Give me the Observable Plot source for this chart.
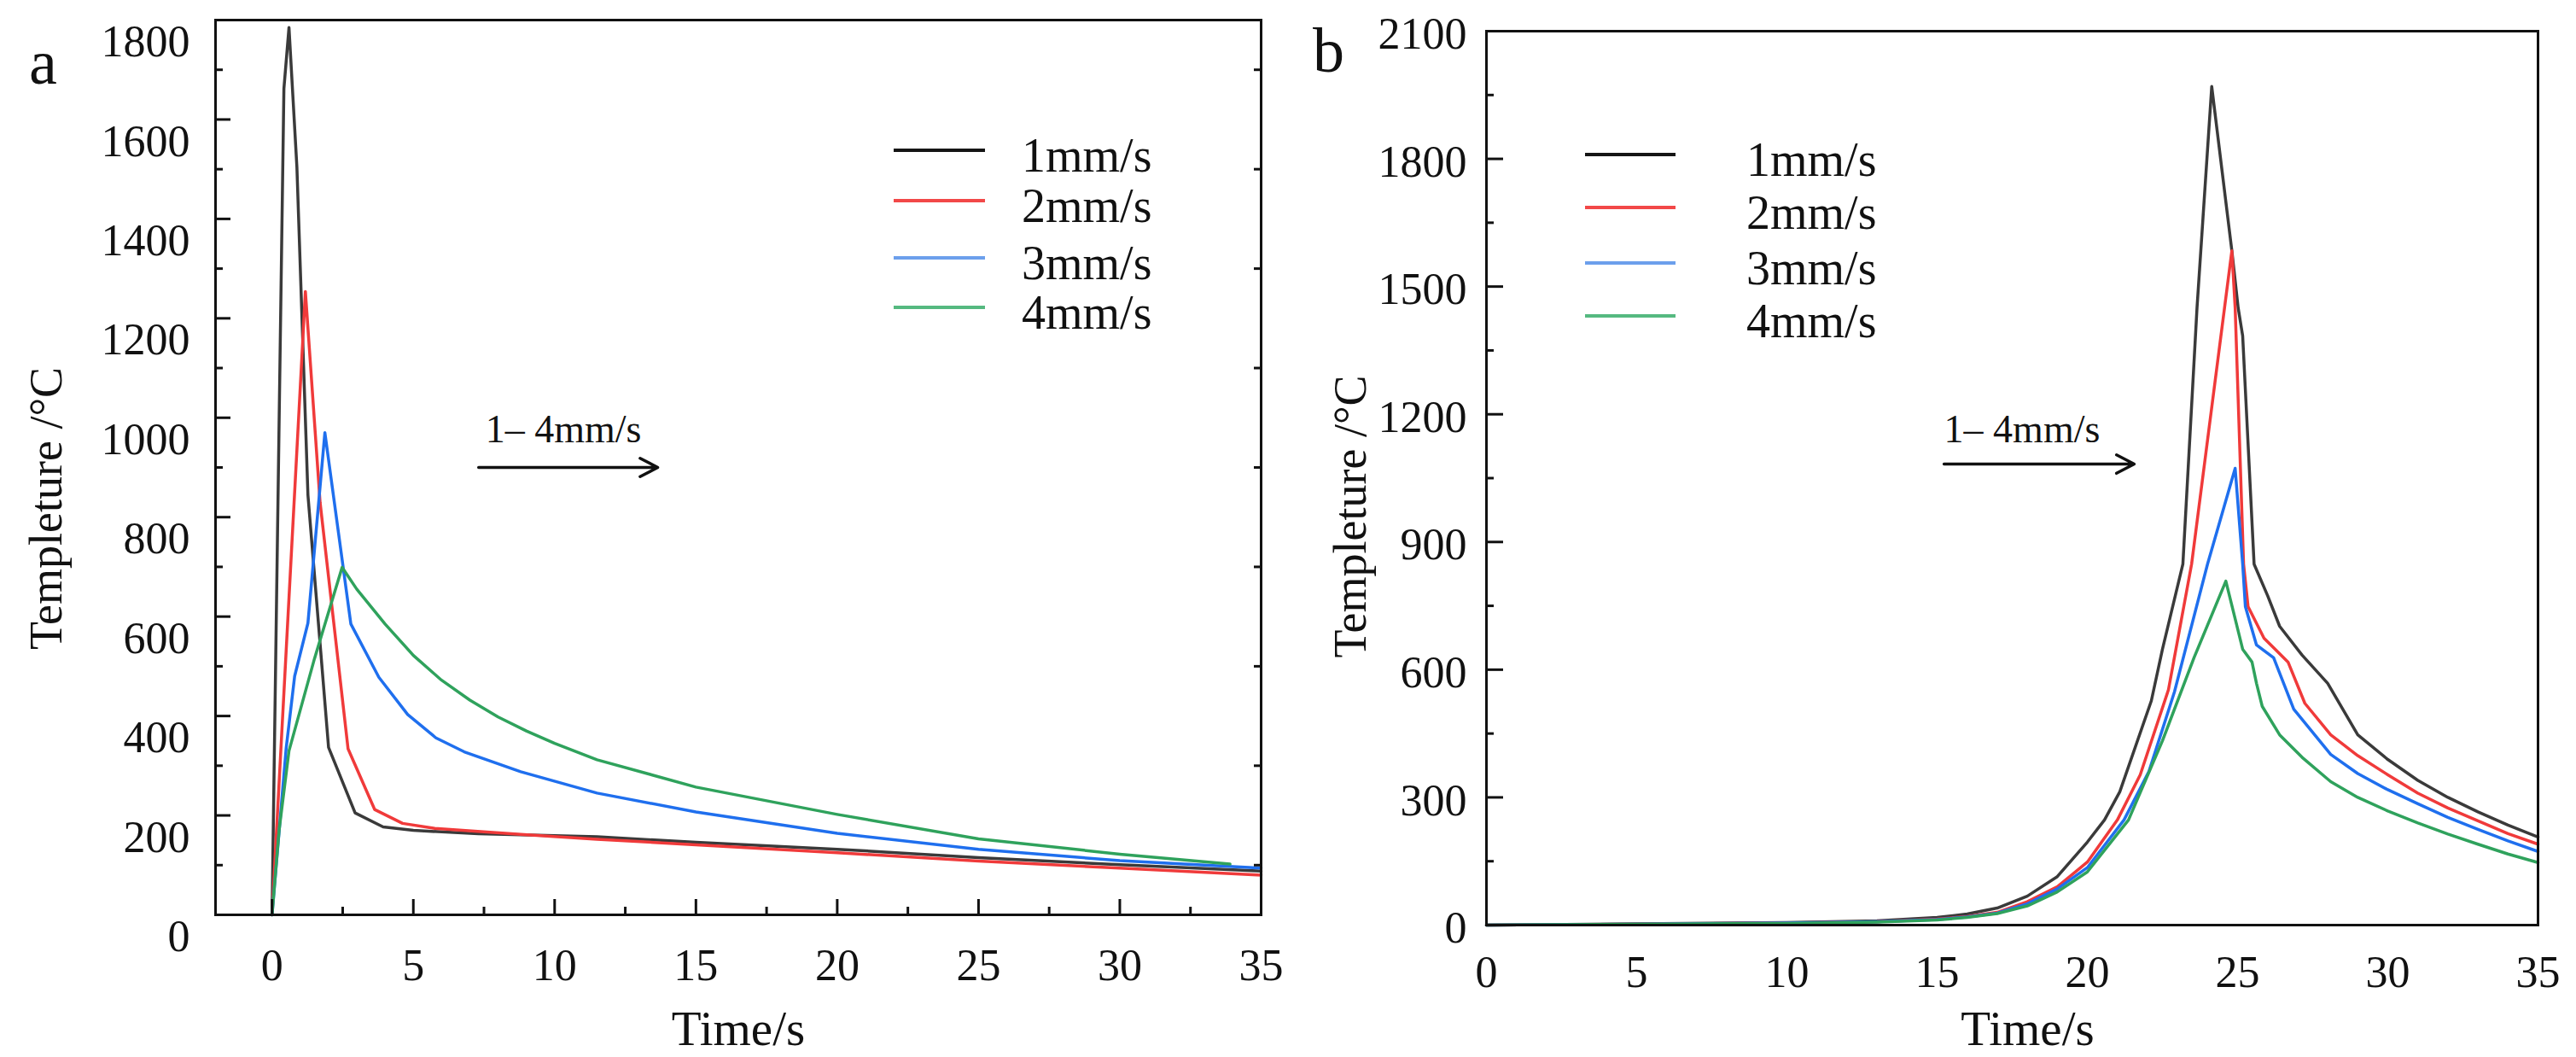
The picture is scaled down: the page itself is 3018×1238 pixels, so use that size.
<!DOCTYPE html>
<html>
<head>
<meta charset="utf-8">
<script src="https://cdn.jsdelivr.net/npm/d3@7"></script>
<script src="https://cdn.jsdelivr.net/npm/@observablehq/plot@0.6"></script>
<style>
  html, body { margin: 0; padding: 0; background: #fff; }
  #chart { position: relative; width: 3018px; height: 1238px; overflow: hidden;
           font-family: "Liberation Serif", "Times New Roman", serif; color: #111; }
  #chart svg { position: absolute; top: 0; }
  .letter { position: absolute; font-size: 74px; line-height: 74px; }
  .swatch { position: absolute; height: 4px; }
  .ltext { position: absolute; font-size: 56px; line-height: 56px; white-space: nowrap; }
</style>
</head>
<body>
<div id="chart"></div>
<script>

const speeds = ["1mm/s", "2mm/s", "3mm/s", "4mm/s"];
const lineColors = ["#3a3a3a", "#f03a3a", "#1f6fee", "#2fa25c"];
const legendColors = ["#151515", "#f24848", "#6c9fec", "#55b980"];

// panel a : [time s, temperature °C]
const a1 = [[0,0],[0.42,1662],[0.6,1785],[0.88,1504],[1.27,845],[2.0,337],[2.94,205],[3.93,177],[5,170],[7.3,163],[11.5,157],[15,146],[20,132],[25,115],[30,101],[35,88]];
const a2 = [[0,0],[1.18,1254],[1.7,830],[2.69,334],[3.63,212],[4.62,184],[5.76,174],[8.8,162],[11.5,152],[15,141],[20,125],[25,108],[30,94],[35,80]];
const a3 = [[0,0],[0.5,335],[0.8,480],[1.27,587],[1.87,970],[2.79,585],[3.78,478],[4.8,403],[5.8,356],[6.8,328],[8.8,288],[11.5,245],[15,207],[20,164],[25,132],[30,109],[35,94]];
const a4 = [[0,0],[0.25,170],[0.6,330],[1.5,515],[2.48,699],[3,655],[4,585],[5,522],[6,472],[7,432],[8,398],[9,370],[10,345],[11.5,312],[15,257],[20,202],[25,153],[30,122],[33.9,102]];

// panel b
const b1 = [[0,0],[5,3],[10,6],[13,10],[15,18],[16,26],[17,40],[18,68],[19,114],[20,195],[20.57,247],[21.08,313],[22.13,527],[22.5,648],[23.18,848],[23.65,1450],[24.14,1970],[24.81,1584],[25.02,1450],[25.17,1384],[25.55,848],[26.0,774],[26.4,702],[27.15,634],[28.0,568],[29,447],[30,389],[31,340],[32,300],[33,266],[34,235],[35,207]];
const b2 = [[0,0],[5,2],[10,5],[13,8],[15,14],[16,20],[17,30],[18,55],[19,90],[20,148],[21.0,247],[21.76,353],[22.7,553],[23.47,848],[24.81,1584],[24.92,1450],[25.2,848],[25.35,748],[25.88,674],[26.68,618],[27.24,521],[28.1,447],[29,398],[30,353],[31,310],[32,275],[33,245],[34,215],[35,190]];
const b3 = [[0,0],[5,2],[10,5],[13,8],[15,13],[16,19],[17,28],[18,50],[19,85],[20,135],[21.22,247],[22.05,361],[22.9,548],[24.0,848],[24.92,1073],[25.17,848],[25.26,748],[25.63,658],[26.2,628],[26.87,507],[28.1,401],[29,356],[30,318],[31,285],[32,253],[33,225],[34,198],[35,173]];
const b4 = [[0,0],[5,2],[10,4],[13,7],[15,12],[16,18],[17,27],[18,45],[19,78],[20,125],[21.37,247],[22.5,433],[23.55,628],[24.61,808],[25.17,648],[25.48,618],[25.63,568],[25.82,514],[26.4,447],[27.15,394],[28.1,337],[29,300],[30,268],[31,240],[32,214],[33,190],[34,167],[35,147]];

const timeTicks = [0, 5, 10, 15, 20, 25, 30, 35];
const timeMinor = [2.5, 7.5, 12.5, 17.5, 22.5, 27.5, 32.5];
const aTempTicks = [0, 200, 400, 600, 800, 1000, 1200, 1400, 1600, 1800];
const aTempMinor = [100, 300, 500, 700, 900, 1100, 1300, 1500, 1700];
const bTempTicks = [0, 300, 600, 900, 1200, 1500, 1800, 2100];
const bTempMinor = [150, 450, 750, 1050, 1350, 1650, 1950];

const arrowText = "1\u2013 4mm/s";
const arrowA = [{x1: 7.31, x2: 13.65, y: 900, tx: 7.55, ty: 951}];
const arrowB = [{x1: 15.23, x2: 21.56, y: 1083, tx: 15.23, ty: 1135}];

const rows = (series) => series.flatMap((s, i) => s.map(([t, v]) => ({t, v, speed: speeds[i]})));

const serif = "Liberation Serif, Times New Roman, serif";
const font = {fontFamily: serif, fontSize: "52px", color: "#111", background: "transparent", overflow: "visible"};
const plain = d => String(d);

function panel(o) {
  return Plot.plot({
    width: o.width, height: 1238,
    marginLeft: o.ml, marginRight: o.mr, marginTop: o.mt, marginBottom: o.mb,
    x: {domain: o.xd},
    y: {domain: o.yd},
    color: {domain: speeds, range: lineColors},
    style: font,
    marks: [
      Plot.line(rows(o.series), {x: "t", y: "v", z: "speed", stroke: "speed", strokeWidth: 3.5}),
      Plot.frame({stroke: "#111", strokeWidth: 3}),
      Plot.axisY(o.yt, {anchor: "left", tickSize: -o.ytick, strokeWidth: 3, fill: "none", label: null}),
      Plot.axisY(o.ym, {anchor: "left", tickSize: -9, strokeWidth: 3, fill: "none", label: null}),
      o.right ? Plot.axisY(o.right, {anchor: "right", tickSize: -9, strokeWidth: 3, fill: "none", label: null}) : null,
      Plot.axisY(o.yt, {anchor: "left", tickSize: 0, tickPadding: o.ypad, dy: o.ydy, stroke: "none", label: null,
        tickFormat: plain, fontFamily: serif, fontSize: 52}),
      o.xticks ? Plot.axisX(timeTicks, {anchor: "bottom", tickSize: -18, strokeWidth: 3, fill: "none", label: null}) : null,
      o.xticks ? Plot.axisX(timeMinor, {anchor: "bottom", tickSize: -9, strokeWidth: 3, fill: "none", label: null}) : null,
      Plot.axisX(timeTicks, {anchor: "bottom", tickSize: 0, tickPadding: o.xpad, stroke: "none", label: null,
        tickFormat: plain, fontFamily: serif, fontSize: 52}),
      Plot.text(["Time/s"], {frameAnchor: "bottom", textAnchor: "middle", lineAnchor: "bottom",
        dx: o.tdx, dy: o.tdy, fontSize: 57, fontFamily: serif}),
      Plot.text(["Templeture /\u00b0C"], {frameAnchor: "left", textAnchor: "middle", lineAnchor: "middle",
        rotate: -90, dx: o.ldx, dy: o.ldy, fontSize: 54, fontFamily: serif}),
      Plot.arrow(o.arrow, {x1: "x1", x2: "x2", y1: "y", y2: "y", stroke: "#111", strokeWidth: 3.5, headLength: 10, headAngle: 55}),
      Plot.text(o.arrow, {x: "tx", y: "ty", text: () => arrowText, textAnchor: "start", lineAnchor: "bottom",
        fontSize: 46, fontFamily: serif})
    ]
  });
}

const chart = d3.select("#chart");

const svgA = panel({width: 1520, ml: 252, mr: 43, mt: 23, mb: 167, xd: [-2, 35], yd: [0, 1800],
  series: [a1, a2, a3, a4], yt: aTempTicks, ym: aTempMinor, right: aTempMinor, ytick: 18,
  ypad: 30, ydy: 26, xticks: true, xpad: 40, tdx: 0, tdy: 152, ldx: -198, ldy: 48, arrow: arrowA});
const svgB = panel({width: 1518, ml: 241, mr: 45, mt: 36, mb: 155, xd: [0, 35], yd: [0, 2100],
  series: [b1, b2, b3, b4], yt: bTempTicks, ym: bTempMinor, right: null, ytick: 20,
  ypad: 23, ydy: 4, xticks: false, xpad: 36, tdx: 18, tdy: 140, ldx: -159, ldy: 45, arrow: arrowB});

chart.append(() => svgA).style("left", "0px");
chart.append(() => svgB).style("left", "1500px");

// panel letters
chart.append("div").attr("class", "letter").style("left", "34px").style("top", "36px").text("a");
chart.append("div").attr("class", "letter").style("left", "1538px").style("top", "22px").text("b");

// legends
const legendA = {x1: 1047, x2: 1154, tx: 1197, ys: [176, 235, 302, 360]};
const legendB = {x1: 1857, x2: 1963, tx: 2046, ys: [181, 243, 308, 370]};
for (const lg of [legendA, legendB]) {
  speeds.forEach((s, i) => {
    chart.append("div").attr("class", "swatch")
      .style("left", lg.x1 + "px").style("width", (lg.x2 - lg.x1) + "px")
      .style("top", (lg.ys[i] - 2) + "px").style("background", legendColors[i]);
    chart.append("div").attr("class", "ltext")
      .style("left", lg.tx + "px").style("top", (lg.ys[i] - 22) + "px").text(s);
  });
}
</script>
</body>
</html>
